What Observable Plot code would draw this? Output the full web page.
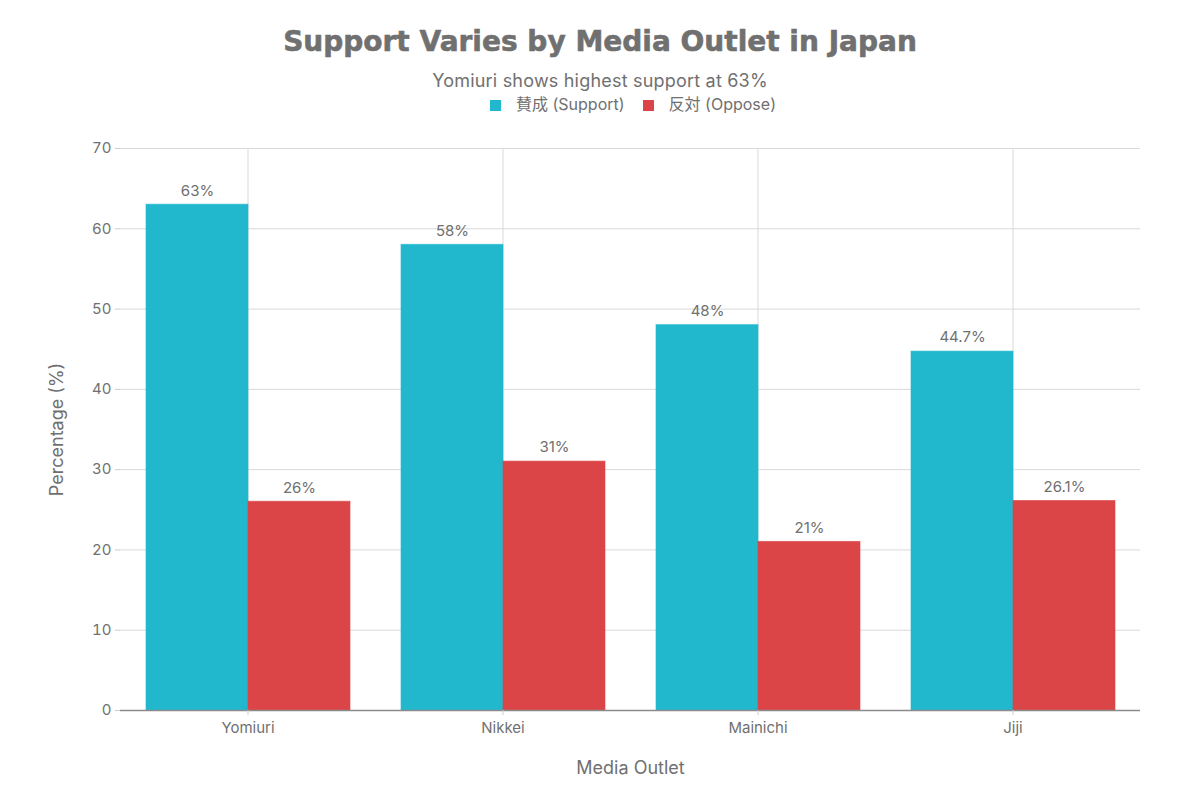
<!DOCTYPE html>
<html>
<head>
<meta charset="utf-8">
<script src="https://cdn.jsdelivr.net/npm/d3@7"></script>
<script src="https://cdn.jsdelivr.net/npm/@observablehq/plot@0.6"></script>
<style>
  html, body { margin: 0; padding: 0; background: #fff; }
  #wrap { position: relative; width: 1200px; height: 800px; font-family: Inter, "Noto Sans", sans-serif; }
  #title { position: absolute; top: 25px; left: 0; width: 1200px; text-align: center; font-family: "DejaVu Sans", sans-serif; font-weight: bold; font-size: 28px; color: #707070; -webkit-text-stroke: 0.6px #707070; }
  #subtitle { position: absolute; top: 70px; left: 0; width: 1200px; text-align: center; font-size: 18px; color: #707070; letter-spacing: 0.2px; }
  #legend { position: absolute; top: 91px; left: 0; width: 1200px; text-align: center; font-size: 16px; color: #707070; font-family: Inter, "Noto Sans CJK JP", sans-serif; padding-left: 66px; box-sizing: border-box; }
  #legend span.item { margin: 0 9px; }
  #legend span.sw { display: inline-block; width: 11px; height: 11px; margin-right: 15px; vertical-align: -1px; }
  #chart { position: absolute; top: 120px; left: 0; }
</style>
</head>
<body>
<div id="wrap">
  <div id="title">Support Varies by Media Outlet in Japan</div>
  <div id="subtitle">Yomiuri shows highest support at 63%</div>
  <div id="legend"></div>
  <div id="chart"></div>
</div>
<script>
const outlets = ["Yomiuri", "Nikkei", "Mainichi", "Jiji"];
const seriesNames = ["賛成 (Support)", "反対 (Oppose)"];
const supportValues = [63, 58, 48, 44.7];
const opposeValues = [26, 31, 21, 26.1];
const seriesColors = ["#21b8ce", "#db4547"];
const yTicks = [0, 10, 20, 30, 40, 50, 60, 70];

const data = [];
outlets.forEach((o, i) => {
  data.push({outlet: o, series: seriesNames[0], value: supportValues[i]});
  data.push({outlet: o, series: seriesNames[1], value: opposeValues[i]});
});

const legend = document.getElementById("legend");
seriesNames.forEach((s, i) => {
  const item = document.createElement("span");
  item.className = "item";
  item.innerHTML = `<span class="sw" style="background:${seriesColors[i]}"></span>${s}`;
  legend.appendChild(item);
});

const chart = Plot.plot({
  width: 1200,
  height: 680,
  marginTop: 28,
  marginBottom: 90,
  marginLeft: 119,
  marginRight: 60,
  style: {fontFamily: "Inter, 'Noto Sans', sans-serif", fontSize: "15px", color: "#707070", background: "white"},
  fx: {domain: outlets, padding: 0, label: null},
  x: {domain: seriesNames, paddingInner: 0, paddingOuter: 0.25, axis: null},
  y: {domain: [0, 70]},
  color: {domain: seriesNames, range: seriesColors},
  marks: [
    Plot.gridY(yTicks, {stroke: "#d9d9d9", strokeOpacity: 1, strokeWidth: 1}),
    Plot.gridFx({stroke: "#d9d9d9", strokeOpacity: 1, strokeWidth: 1}),
    Plot.barY(data, {fx: "outlet", x: "series", y: "value", fill: "series", stroke: "series", strokeOpacity: 0.6, strokeWidth: 1, inset: 0}),
    Plot.text(data, {fx: "outlet", x: "series", y: "value", text: d => d.value + "%", dy: -14, fill: "#707070", fontSize: 15}),
    Plot.ruleY([0], {stroke: "#8a8a8a", strokeWidth: 1.5}),
    Plot.axisY(yTicks, {tickSize: 5, tickPadding: 4, stroke: "#cccccc", fill: "#707070", fontSize: 15, label: "Percentage (%)", labelAnchor: "center", labelArrow: "none", labelOffset: 70}),
    Plot.axisFx({anchor: "bottom", tickSize: 5, tickPadding: 7, stroke: "#cccccc", fill: "#707070", fontSize: 15, label: "Media Outlet", labelAnchor: "center", labelArrow: "none", labelOffset: 63})
  ]
});
chart.querySelectorAll('g[aria-label$="axis label"] text').forEach(t => t.setAttribute("font-size", "18"));
document.getElementById("chart").appendChild(chart);
</script>
</body>
</html>
